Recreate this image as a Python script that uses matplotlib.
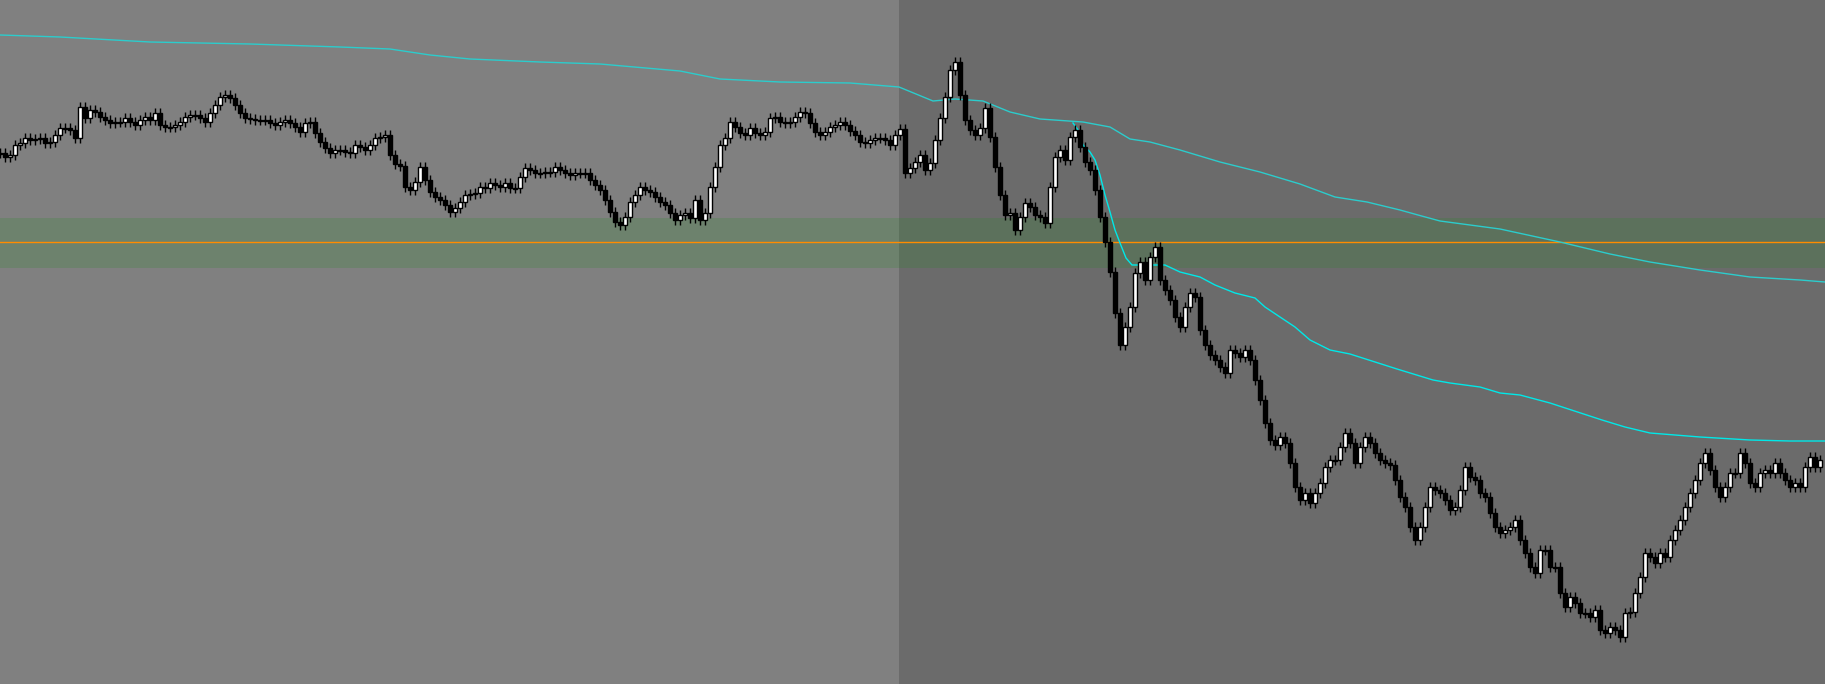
import numpy as np
import matplotlib
matplotlib.use("Agg")
import matplotlib.pyplot as plt

# Schlusskurse pro Kerze (Chart-Einheiten, kleiner = hoeher, Achse wird invertiert)
closes = [
    153, 157, 155, 145, 143, 138, 140, 139, 138, 143, 142, 135, 128, 128, 130, 138, 107, 118, 110, 112,
    117, 120, 123, 122, 122, 118, 122, 125, 120, 117, 120, 113, 125, 127, 127, 125, 122, 117, 115, 115,
    118, 122, 113, 105, 97, 95, 98, 105, 113, 118, 119, 120, 120, 120, 123, 125, 122, 120, 123, 127,
    132, 123, 122, 133, 142, 148, 153, 150, 150, 152, 153, 145, 147, 150, 145, 138, 137, 135, 155, 164,
    166,
    187, 190, 182, 167, 180, 192, 197, 200, 205, 212, 208, 202, 195, 194, 193, 187, 188, 183, 185, 187,
    183, 188, 188, 177, 168, 170, 173, 173, 172, 172, 167, 170, 173, 175, 173, 173, 173, 180, 185, 190,
    200, 212, 222, 225, 217, 202, 195, 187, 190, 192, 197, 202, 205, 213, 220, 215, 213, 218, 200, 220,
    213, 187, 167, 145, 138, 122, 127, 133, 135, 128, 133, 135, 132, 118, 117, 122, 123, 122, 117, 112,
    113, 123, 132, 135, 132, 127, 125, 122, 125, 131,
    135, 142, 143, 140, 138, 138, 140, 145, 135, 129, 173, 168, 162, 155, 170, 163, 140, 118, 97, 70,
    62, 95, 120, 130, 135, 128, 108, 137, 167, 195, 215, 213, 230, 217, 203, 207, 215, 217, 223, 187,
    157, 150, 160, 137, 130, 147, 162, 170, 190, 217,
    242, 272, 313, 345, 327, 307, 273, 262, 280, 257, 247, 280, 290, 300, 317, 327, 307, 293, 297, 330,
    345, 355, 360, 367, 373, 350, 353, 357, 350, 360,
    380, 400, 423, 440, 445, 437, 443, 463, 487, 500, 493, 503, 493, 483, 467, 460, 460, 447, 433, 443,
    463, 447, 437, 443, 453, 460, 463, 465, 480, 497, 507, 527, 540, 527, 507, 487, 490, 493, 500, 510,
    507, 490, 467, 477, 480, 493, 497, 513, 527,
    533, 530, 527, 520, 540, 553, 567, 573, 550, 550, 567, 567, 593, 607, 597, 603, 613, 613, 617, 610,
    630, 633, 627, 630, 637, 613, 612, 593, 577, 553, 557, 563, 553, 557, 540, 530, 520, 507, 493, 480,
    463, 453, 470, 487, 497, 487, 473, 473, 453, 463, 483, 487, 473, 470, 473, 463, 473, 480, 487, 483,
    487, 467, 457, 467, 460,
]

# langsamer gleitender Durchschnitt (Kerzenposition, Wert)
ma_slow_x = [0, 12, 30, 50, 68, 78, 86, 94, 108, 120, 136, 144, 156, 170, 179.8, 186.6, 191, 196.6,
             202, 208, 216.6, 222, 226, 230, 236, 244, 252, 260, 267, 273.4, 280, 283.6, 288, 300,
             312, 322, 330, 340, 350, 360, 365]
ma_slow_y = [35, 37, 42, 44, 47, 49, 55, 59, 62, 64, 71, 79, 82, 83, 87, 101, 99, 101,
             112, 119, 122, 127, 139, 142, 150, 162, 172, 184, 197, 202, 210, 215, 221, 229,
             242, 254, 262, 270, 277, 280, 282]

# schneller gleitender Durchschnitt
ma_fast_x = [214.6, 215.6, 216.6, 218, 219, 220, 221, 222, 223, 224, 225.2, 226.4, 230, 233, 236,
             240, 243, 247, 251, 253, 256, 259, 262, 266, 270, 279.4, 286.6, 290, 296, 300, 304,
             310, 320.4, 325, 330, 340, 350, 358, 365]
ma_fast_y = [123, 130, 145, 152, 160, 175, 195, 212, 230, 243, 258, 265, 265, 265, 272,
             277, 285, 293, 298, 307, 317, 327, 340, 350, 354, 369, 380, 383, 387, 393, 395,
             403, 420, 427, 433, 437, 440, 441, 441]

band_lo, band_hi = 218, 268
level = 242
split = 179.8

fig = plt.figure(figsize=(18.25, 6.84), dpi=100)
ax = fig.add_axes([0, 0, 1, 1])
ax.set_facecolor('#808080')
ax.axvspan(split, 400, color='#6b6b6b', zorder=0, lw=0)
ax.axhspan(band_lo, band_hi, color='#228b22', alpha=0.2, zorder=1, lw=0)
ax.axhline(level, color='#ff8c00', lw=1, zorder=2)

ax.plot(ma_slow_x, ma_slow_y, color='#2ccccc', lw=1.0, zorder=3)
ax.plot(ma_fast_x, ma_fast_y, color='#00e8e8', lw=1.0, zorder=3)

# Kerzen
c = np.array(closes, dtype=float)
o = np.concatenate([[c[0]], c[:-1]])
x = np.arange(len(c))
wick = 5
lo = np.minimum(o, c)
hi = np.maximum(o, c)
ax.vlines(x, lo - wick, hi + wick, color='black', lw=1, zorder=4)
up = c < o
ax.bar(x[up], (hi - lo)[up], bottom=lo[up], width=0.7, color='white',
       edgecolor='black', lw=1.0, zorder=5)
ax.bar(x[~up], np.maximum(hi - lo, 1.0)[~up], bottom=lo[~up], width=0.7, color='black',
       edgecolor='black', lw=1.0, zorder=5)

ax.set_xlim(0, 365)
ax.set_ylim(684, 0)
ax.axis('off')

fig.savefig('out.png', dpi=100, facecolor='#808080')
